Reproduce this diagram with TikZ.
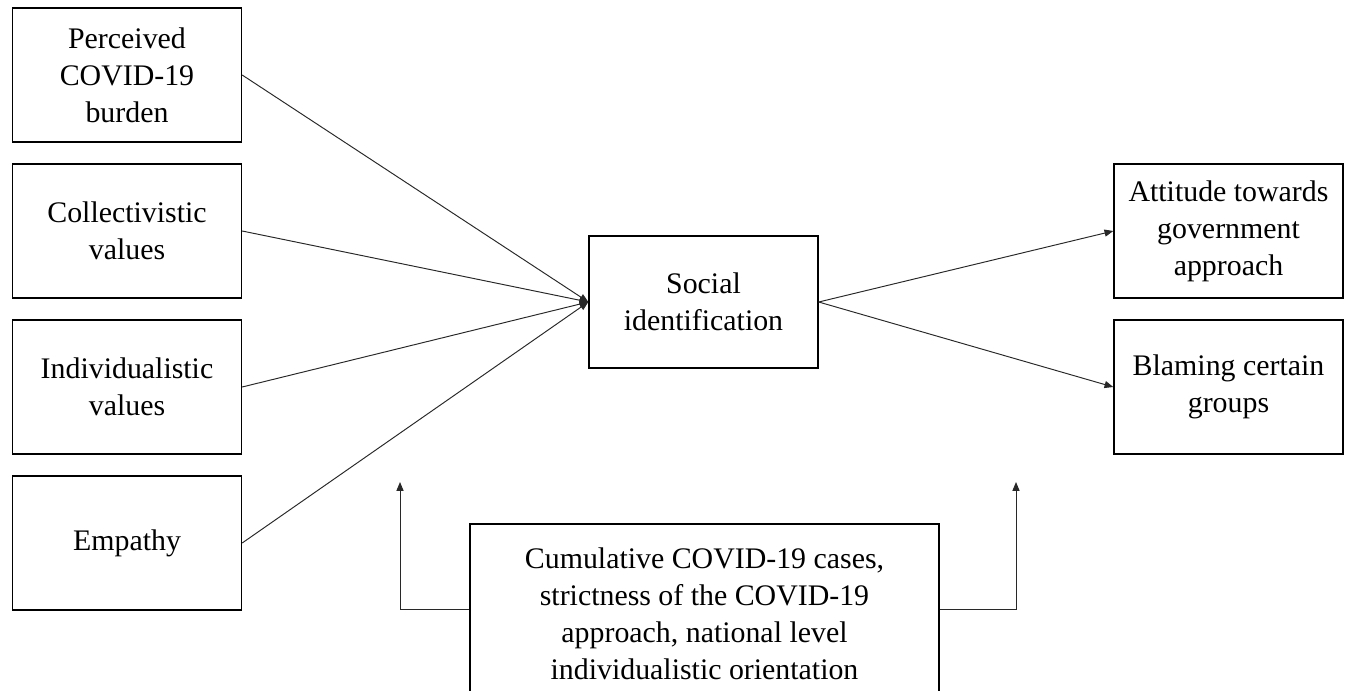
\documentclass[tikz,border=0pt]{standalone}
\usepackage{fontspec}
\setmainfont{Liberation Serif}
\usepackage{xcolor}
\definecolor{line_gray}{RGB}{40,40,40}
\usetikzlibrary{arrows.meta}

\begin{document}
\begin{tikzpicture}[x=0.02cm, y=-0.02cm,
  factor/.style={draw, line width=0.8pt, minimum width=4.58cm, minimum height=2.68cm,
    align=center, inner sep=2pt, font=\fontsize{17}{21}\selectfont},
  link/.style={draw=line_gray, line width=0.55pt, -{Triangle[length=5pt, width=4pt]}}]
\useasboundingbox (0,0) rectangle (1348,690);

% predictors
\node[factor] (burden) at (127,75) {Perceived\\COVID-19\\burden};
\node[factor] (collect) at (127,231) {Collectivistic\\values};
\node[factor] (indiv) at (127,387) {Individualistic\\values};
\node[factor] (empathy) at (127,543) {Empathy};

% mediator and outcomes
\node[factor, minimum height=2.64cm] (socid) at (703.5,302) {Social\\identification};
\node[factor] (attitude) at (1228.5,231) {Attitude towards\\government\\approach};
\node[factor] (blame) at (1228.5,387) {Blaming certain\\groups};

% moderators
\node[factor, minimum width=9.38cm, minimum height=3.6cm] (context) at (704.5,614)
  {Cumulative COVID-19 cases,\\strictness of the COVID-19\\approach, national level\\individualistic orientation};

\draw[link] (burden.east) -- (socid.west);
\draw[link] (collect.east) -- (socid.west);
\draw[link] (indiv.east) -- (socid.west);
\draw[link] (empathy.east) -- (socid.west);

\draw[link] (socid.east) -- (attitude.west);
\draw[link] (socid.east) -- (blame.west);

\coordinate (lvl) at (0,609);
\coordinate (tipL) at (400,482);
\coordinate (tipR) at (1016,482);
\draw[link] (context.west |- lvl) -| (tipL);
\draw[link] (context.east |- lvl) -| (tipR);

\end{tikzpicture}
\end{document}
